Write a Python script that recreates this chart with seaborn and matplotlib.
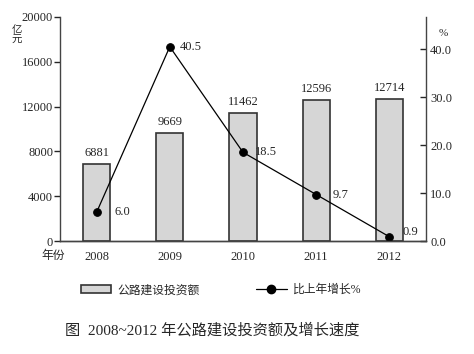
import numpy as np
import pandas as pd
import matplotlib.pyplot as plt
import seaborn as sns
from matplotlib.patches import Patch
from matplotlib.lines import Line2D

# data
years = ['2008', '2009', '2010', '2011', '2012']
invest = [6881, 9669, 11462, 12596, 12714]
growth = [6.0, 40.5, 18.5, 9.7, 0.9]

sns.set_theme(style='white')
plt.rcParams['font.family'] = ['Liberation Serif', 'Noto Sans CJK SC', 'DejaVu Sans']
plt.rcParams['axes.unicode_minus'] = False

df = pd.DataFrame({'year': years, 'invest': invest, 'growth': growth})

fig = plt.figure(figsize=(4.74, 3.54), dpi=100)
ax = fig.add_axes([0.1266, 0.319, 0.772, 0.633])

sns.barplot(data=df, x='year', y='invest', ax=ax, color='#d6d6d6',
            edgecolor='#333333', linewidth=1.2, width=0.37, saturation=1)
ax.set_ylim(0, 20000)
ax.set_xlim(-0.5, len(years) - 0.5)
ax.set_yticks(range(0, 20001, 4000))
ax.set_xlabel('')
ax.set_ylabel('')
for i, v in enumerate(invest):
    ax.text(i, v + 450, str(v), ha='center', va='bottom', fontsize=9)

ax2 = ax.twinx()
xpos = np.arange(len(years))
sns.lineplot(x=xpos, y=growth, ax=ax2, color='black', linewidth=0.9,
             marker='o', markersize=5.5, markeredgecolor='black')
ax2.set_ylim(0, 46.7)
ax2.set_yticks(np.arange(0, 41, 10))
ax2.set_yticklabels([f'{t:.1f}' for t in np.arange(0, 41, 10)])
ax.set_xlim(-0.5, len(years) - 0.5)
offs = [0.25, 0.14, 0.17, 0.22, 0.18]
dy = [0, 0, 0, 0, 1.0]
for i, g in enumerate(growth):
    ax2.text(i + offs[i], g + dy[i], f'{g:.1f}', ha='left', va='center', fontsize=9)

for a in (ax, ax2):
    a.spines['top'].set_visible(False)
    for s in a.spines.values():
        s.set_color('#444444')
        s.set_linewidth(1.0)
ax.spines['right'].set_visible(False)
ax2.spines['left'].set_visible(False)
ax.tick_params(axis='y', direction='out', length=4, width=1, labelsize=9, pad=1, left=True)
ax.tick_params(axis='x', length=0, labelsize=9, pad=7)
ax2.tick_params(axis='y', direction='in', length=4, width=1, labelsize=9, pad=3, right=True)

# axis unit labels (stacked vertically, as in the source)
fig.text(0.036, 0.928, '亿', fontsize=7.5, ha='center', va='top')
fig.text(0.036, 0.898, '元', fontsize=7.5, ha='center', va='top')
fig.text(0.935, 0.905, '%', fontsize=8, ha='center', va='center')
fig.text(0.112, 0.278, '年份', fontsize=8.5, ha='center', va='center')

handles = [Patch(facecolor='#d6d6d6', edgecolor='#333333', linewidth=1.2, label='公路建设投资额'),
           Line2D([0], [0], color='black', linewidth=0.9, marker='o', markersize=6,
                  label='比上年增长%')]
fig.legend(handles=handles, loc='center', bbox_to_anchor=(0.466, 0.18), ncol=2,
           frameon=False, fontsize=8.5, handlelength=2.6, handleheight=0.7,
           columnspacing=4.8, handletextpad=0.5)

fig.text(0.137, 0.068, '图  2008~2012 年公路建设投资额及增长速度', fontsize=11,
         ha='left', va='center', family=['Liberation Serif', 'Noto Sans CJK SC', 'DejaVu Sans'])

fig.savefig('out.png', dpi=100)
